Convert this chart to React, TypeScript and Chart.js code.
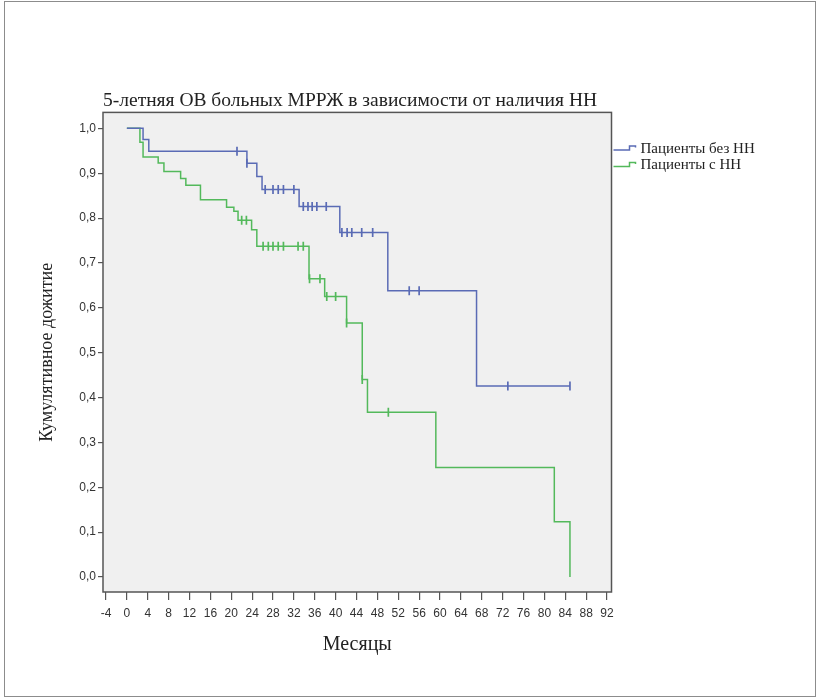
import { useEffect, useRef } from 'react';
import { Chart, registerables } from 'chart.js';

Chart.register(...registerables);

const TITLE = '5-летняя ОВ больных МРРЖ в зависимости от наличия НН';
const X_TITLE = 'Месяцы';
const Y_TITLE = 'Кумулятивное дожитие';
const SERIES_NAMES = ['Пациенты без НН', 'Пациенты с НН'];

const xTickValues = [-4, 0, 4, 8, 12, 16, 20, 24, 28, 32, 36, 40, 44, 48, 52, 56, 60, 64, 68, 72, 76, 80, 84, 88, 92];
const yTickValues = [0, 0.1, 0.2, 0.3, 0.4, 0.5, 0.6, 0.7, 0.8, 0.9, 1.0];

// Patients without HH (blue)
const noHnTimes = [0, 3.1, 4.2, 23.0, 24.9, 25.9, 33.0, 40.8, 50.0, 67.0, 84.9];
const noHnSurv = [1.0, 0.975, 0.949, 0.922, 0.893, 0.864, 0.826, 0.768, 0.638, 0.426, 0.426];
const noHnCensored = [21.1, 23.0, 26.5, 28.0, 29.0, 30.0, 32.0, 33.8, 34.7, 35.5, 36.4, 38.2, 41.2, 42.2, 43.1, 45.0, 47.1, 54.1, 56.0, 73.0, 84.9];

// Patients with HH (green)
const hnTimes = [0, 2.5, 3.1, 6.0, 7.1, 10.3, 11.3, 14.1, 19.1, 20.5, 21.3, 23.9, 24.9, 34.9, 37.9, 42.1, 45.1, 46.1, 59.2, 81.9, 84.9];
const hnSurv = [1.0, 0.969, 0.936, 0.923, 0.904, 0.888, 0.873, 0.841, 0.824, 0.815, 0.795, 0.774, 0.737, 0.665, 0.625, 0.566, 0.44, 0.367, 0.244, 0.123, 0.0];
const hnCensored = [22.0, 22.9, 26.1, 27.1, 28.0, 29.0, 30.0, 32.8, 33.8, 35.0, 37.0, 38.3, 40.0, 42.1, 45.1, 50.1];

const BLUE = '#5a6bb5';
const GREEN = '#53b95b';
const SERIF = '"Liberation Serif", "Times New Roman", serif';
const SANS = '"Liberation Sans", Arial, sans-serif';

function steps(times: number[], surv: number[]) {
  return times.map((t, i) => ({ x: t, y: surv[i] }));
}
function survivalAt(times: number[], surv: number[], t: number) {
  let s = surv[0];
  for (let i = 0; i < times.length; i++) if (times[i] <= t) s = surv[i];
  return s;
}
function censorPoints(times: number[], surv: number[], cens: number[]) {
  return cens.map((t) => ({ x: t, y: survivalAt(times, surv, t) }));
}

const framePlugin = {
  id: 'frameBg',
  beforeDraw(chart: any) {
    const { ctx, chartArea: a, width, height } = chart;
    ctx.save();
    ctx.fillStyle = '#ffffff';
    ctx.fillRect(0, 0, width, height);
    ctx.strokeStyle = '#8c8c8c';
    ctx.lineWidth = 1;
    ctx.strokeRect(4.5, 1.5, 811, 695);
    ctx.fillStyle = '#f0f0f0';
    ctx.fillRect(a.left, a.top, a.right - a.left, a.bottom - a.top);
    ctx.restore();
  },
  afterDraw(chart: any) {
    const { ctx, chartArea: a } = chart;
    ctx.save();
    ctx.strokeStyle = '#555555';
    ctx.lineWidth = 1.5;
    ctx.strokeRect(a.left, a.top, a.right - a.left, a.bottom - a.top);
    // legend
    const colors = [BLUE, GREEN];
    SERIES_NAMES.forEach((name, i) => {
      const y = a.top + 36.5 + i * 16.5;
      const x0 = a.right + 2;
      ctx.strokeStyle = colors[i];
      ctx.lineWidth = 1.5;
      ctx.beginPath();
      ctx.moveTo(x0, y + 1);
      ctx.lineTo(x0 + 16, y + 1);
      ctx.lineTo(x0 + 16, y - 3);
      ctx.lineTo(x0 + 22, y - 3);
      ctx.lineTo(x0 + 22, y - 1.5);
      ctx.stroke();
      ctx.fillStyle = '#222';
      ctx.font = `15px ${SERIF}`;
      ctx.textBaseline = 'middle';
      ctx.textAlign = 'left';
      ctx.fillText(name, x0 + 27, y);
    });
    ctx.restore();
  },
};

export default function App() {
  const ref = useRef<HTMLCanvasElement>(null);

  useEffect(() => {
    const canvas = ref.current;
    if (!canvas) return;
    const chart = new Chart(canvas, {
      type: 'line',
      data: {
        datasets: [
          {
            label: SERIES_NAMES[0],
            data: steps(noHnTimes, noHnSurv),
            stepped: true,
            borderColor: BLUE,
            borderWidth: 1.5,
            pointRadius: 0,
            fill: false,
          },
          {
            label: SERIES_NAMES[1],
            data: steps(hnTimes, hnSurv),
            stepped: true,
            borderColor: GREEN,
            borderWidth: 1.5,
            pointRadius: 0,
            fill: false,
          },
          {
            label: SERIES_NAMES[0] + ' (цензурированные)',
            data: censorPoints(noHnTimes, noHnSurv, noHnCensored),
            showLine: false,
            pointStyle: 'line',
            rotation: 90,
            pointRadius: 4.5,
            borderColor: BLUE,
            pointBorderColor: BLUE,
            pointBorderWidth: 1.7,
          },
          {
            label: SERIES_NAMES[1] + ' (цензурированные)',
            data: censorPoints(hnTimes, hnSurv, hnCensored),
            showLine: false,
            pointStyle: 'line',
            rotation: 90,
            pointRadius: 4.5,
            borderColor: GREEN,
            pointBorderColor: GREEN,
            pointBorderWidth: 1.7,
          },
        ] as any,
      },
      options: {
        responsive: false,
        animation: false,
        layout: { padding: { left: 0, right: 205.5, top: 0, bottom: 0 } },
        plugins: {
          legend: { display: false },
          tooltip: { enabled: false },
          title: {
            display: true,
            text: TITLE,
            fullSize: false,
            align: 'start',
            color: '#222',
            font: { family: SERIF, size: 19.5, weight: 'normal' },
            padding: { top: 89, bottom: 0 },
          },
        },
        scales: {
          x: {
            type: 'linear',
            min: -4.575,
            max: 92.86,
            afterBuildTicks: (s: any) => {
              s.ticks = xTickValues.map((v) => ({ value: v }));
            },
            afterFit: (s: any) => {
              s.height = 107;
            },
            grid: { drawOnChartArea: false, drawTicks: true, tickLength: 8, color: '#555', lineWidth: 1.2 },
            border: { display: false },
            ticks: {
              autoSkip: false,
              maxRotation: 0,
              minRotation: 0,
              padding: 6,
              color: '#333',
              font: { family: SANS, size: 12 },
              callback: (v: any) => String(v),
            },
            title: {
              display: true,
              text: X_TITLE,
              color: '#222',
              font: { family: SERIF, size: 20, weight: 'normal' },
              padding: { top: 0, bottom: 42 },
            },
          },
          y: {
            type: 'linear',
            min: -0.0334,
            max: 1.0356,
            afterBuildTicks: (s: any) => {
              s.ticks = yTickValues.map((v) => ({ value: v }));
            },
            afterFit: (s: any) => {
              s.width = 103;
            },
            grid: { drawOnChartArea: false, drawTicks: true, tickLength: 5, color: '#555', lineWidth: 1.2 },
            border: { display: false },
            ticks: {
              padding: 2,
              color: '#333',
              font: { family: SANS, size: 12 },
              callback: (v: any) => Number(v).toFixed(1).replace('.', ','),
            },
            title: {
              display: true,
              text: Y_TITLE,
              color: '#222',
              font: { family: SERIF, size: 18, weight: 'normal' },
              padding: { top: 36, bottom: 0 },
            },
          },
        },
      } as any,
      plugins: [framePlugin],
    });
    return () => chart.destroy();
  }, []);

  return (
    <div style={{ position: 'absolute', left: 0, top: 0, width: 817, height: 699, background: '#fff' }}>
      <canvas ref={ref} width={817} height={699} style={{ display: 'block' }} />
    </div>
  );
}
